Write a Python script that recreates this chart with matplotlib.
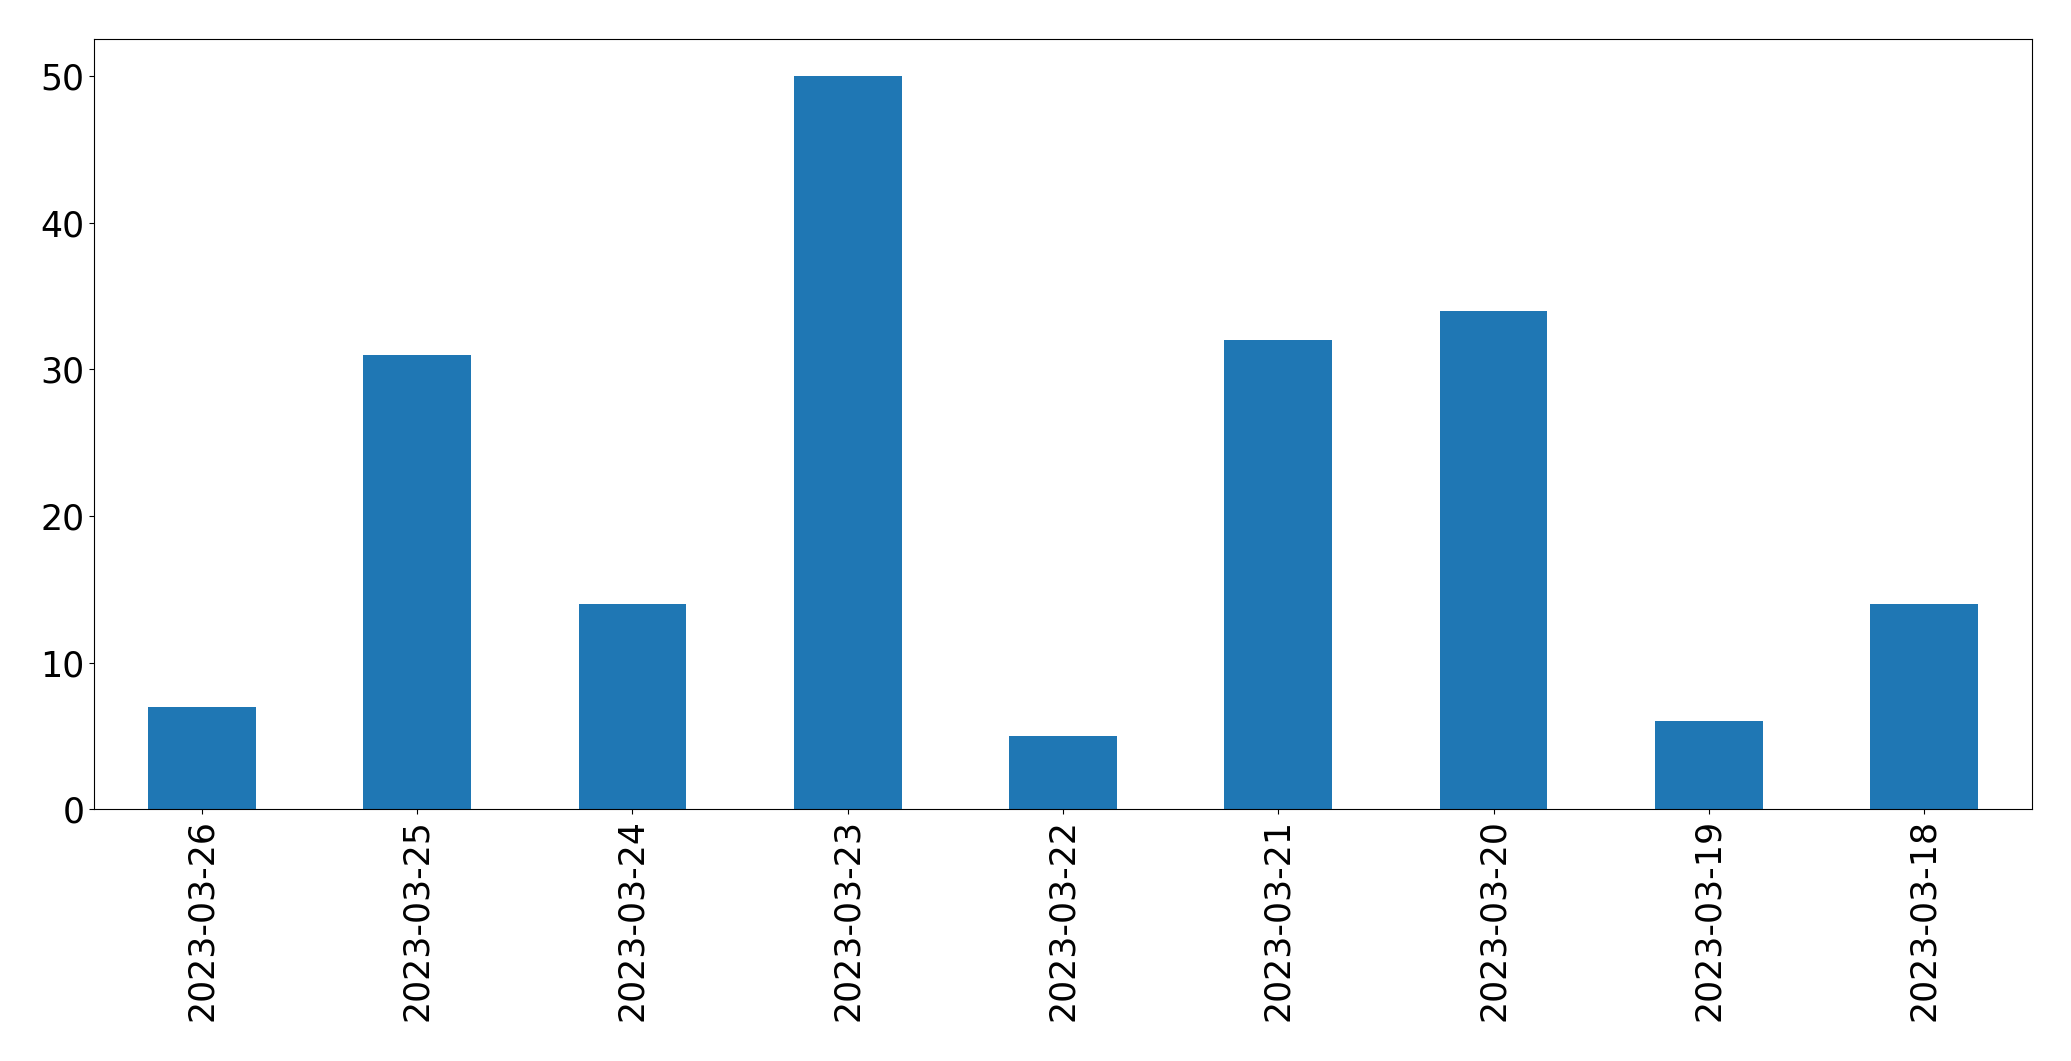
import matplotlib
matplotlib.use("Agg")
import matplotlib.pyplot as plt
import pandas as pd

dates = ["2023-03-26", "2023-03-25", "2023-03-24", "2023-03-23", "2023-03-22",
         "2023-03-21", "2023-03-20", "2023-03-19", "2023-03-18"]
counts = [7, 31, 14, 50, 5, 32, 34, 6, 14]

fig = plt.figure(figsize=(20.71, 10.61), dpi=100)
ax = fig.add_axes([94.3 / 2071, 1 - 809.3 / 1061, (2031.7 - 94.3) / 2071, (809.3 - 39.3) / 1061])
s = pd.Series(counts, index=dates)
s.plot(kind="bar", ax=ax, color="#1f77b4")
ax.tick_params(axis="both", labelsize=25)
fig.savefig("out.png", dpi=100)
